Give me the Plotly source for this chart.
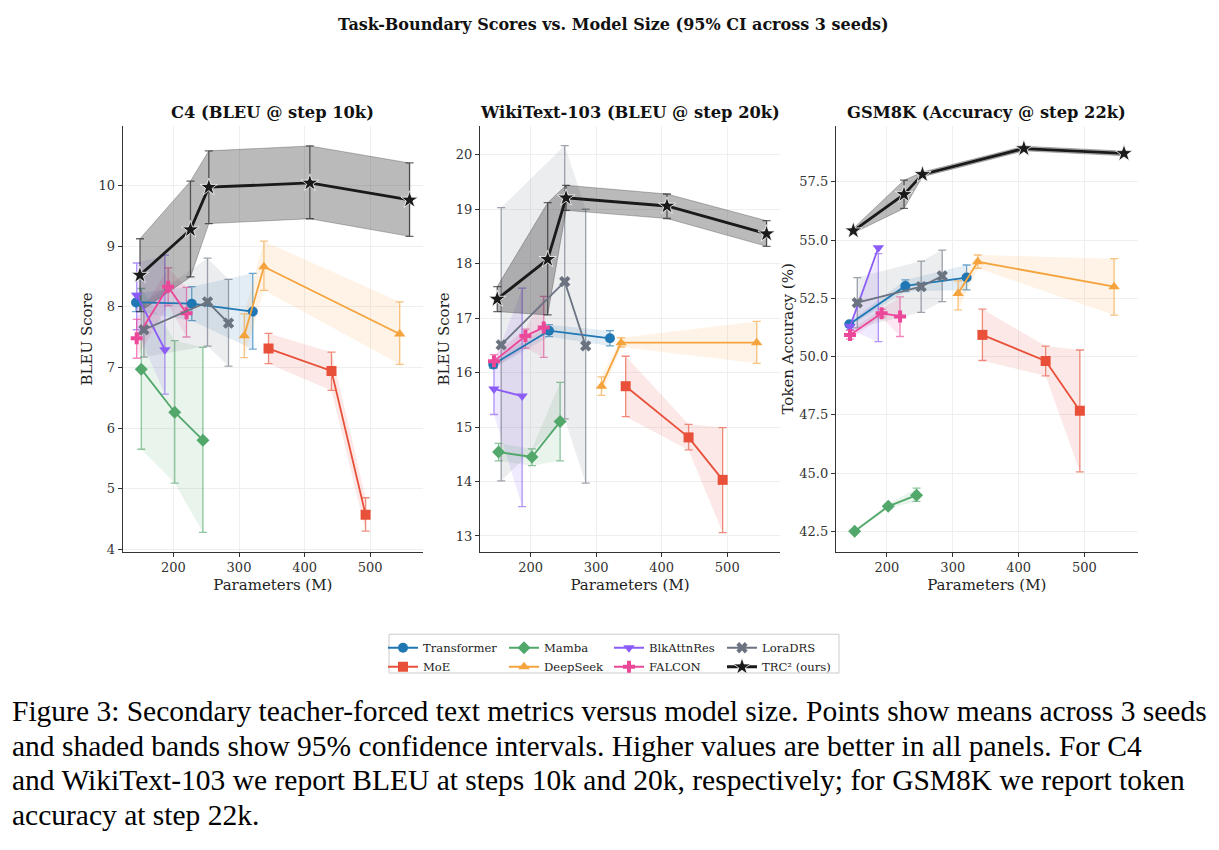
import plotly.graph_objects as go

# ---------------- data ----------------
model_names = ["Transformer", "MoE", "Mamba", "DeepSeek", "BlkAttnRes", "FALCON", "LoraDRS", "TRC² (ours)"]
model_colors = ["#1f77b4", "#e8503a", "#52a86b", "#f5a33c", "#8b5cf6", "#ec4899", "#6b7280", "#1a1a1a"]
model_symbols = ["circle", "square", "diamond", "triangle-up", "triangle-down", "cross", "x", "star"]

x_transformer = [143, 228, 321]
x_moe = [345, 441, 493]
x_mamba = [151, 202, 245]
x_deepseek = [308, 338, 545]
x_blkattnres = [144, 187]
x_falcon = [144, 192, 220]
x_loradrs = [155, 252, 284]
x_trc = [149, 226, 254, 408, 560]

# C4 (BLEU @ step 10k): mean, lower CI, upper CI
c4_transformer = [8.07, 8.05, 7.92]
c4_transformer_lo = [7.92, 7.77, 7.30]
c4_transformer_hi = [8.22, 8.33, 8.55]
c4_moe = [7.31, 6.94, 4.57]
c4_moe_lo = [7.06, 6.62, 4.30]
c4_moe_hi = [7.56, 7.25, 4.85]
c4_mamba = [6.97, 6.26, 5.80]
c4_mamba_lo = [5.65, 5.09, 4.28]
c4_mamba_hi = [8.30, 7.44, 7.33]
c4_deepseek = [7.52, 8.66, 7.55]
c4_deepseek_lo = [7.16, 8.27, 7.05]
c4_deepseek_hi = [7.88, 9.08, 8.08]
c4_blkattnres = [8.19, 7.29]
c4_blkattnres_lo = [7.62, 6.56]
c4_blkattnres_hi = [8.72, 8.85]
c4_falcon = [7.48, 8.33, 7.89]
c4_falcon_lo = [7.15, 8.02, 7.50]
c4_falcon_hi = [7.79, 8.64, 8.32]
c4_loradrs = [7.62, 8.08, 7.73]
c4_loradrs_lo = [7.17, 7.35, 7.02]
c4_loradrs_hi = [8.07, 8.80, 8.45]
c4_trc = [8.52, 9.27, 9.97, 10.04, 9.76]
c4_trc_lo = [7.92, 8.49, 9.37, 9.45, 9.16]
c4_trc_hi = [9.12, 10.07, 10.57, 10.65, 10.37]

# WikiText-103 (BLEU @ step 20k)
wt_transformer = [16.15, 16.77, 16.63]
wt_transformer_lo = [16.08, 16.66, 16.49]
wt_transformer_hi = [16.22, 16.88, 16.77]
wt_moe = [15.75, 14.81, 14.03]
wt_moe_lo = [15.19, 14.58, 13.06]
wt_moe_hi = [16.30, 15.05, 14.99]
wt_mamba = [14.54, 14.45, 15.10]
wt_mamba_lo = [14.38, 14.29, 14.38]
wt_mamba_hi = [14.70, 14.60, 15.82]
wt_deepseek = [15.75, 16.55, 16.55]
wt_deepseek_lo = [15.58, 16.47, 16.17]
wt_deepseek_hi = [15.92, 16.64, 16.94]
wt_blkattnres = [15.70, 15.57]
wt_blkattnres_lo = [15.23, 13.54]
wt_blkattnres_hi = [16.17, 17.55]
wt_falcon = [16.21, 16.67, 16.83]
wt_falcon_lo = [16.09, 16.45, 16.28]
wt_falcon_hi = [16.33, 16.80, 17.40]
wt_loradrs = [16.51, 17.67, 16.49]
wt_loradrs_lo = [14.01, 15.15, 13.97]
wt_loradrs_hi = [19.03, 20.17, 19.00]
wt_trc = [17.35, 18.08, 19.21, 19.06, 18.55]
wt_trc_lo = [17.12, 17.06, 18.98, 18.83, 18.32]
wt_trc_hi = [17.58, 19.12, 19.44, 19.28, 18.79]

# GSM8K (Accuracy @ step 22k)
gsm_transformer = [51.39, 53.03, 53.39]
gsm_transformer_lo = [51.29, 52.79, 52.86]
gsm_transformer_hi = [51.49, 53.29, 53.93]
gsm_moe = [50.93, 49.81, 47.67]
gsm_moe_lo = [49.83, 49.17, 45.05]
gsm_moe_hi = [52.04, 50.45, 50.28]
gsm_mamba = [42.50, 43.57, 44.05]
gsm_mamba_lo = [42.45, 43.48, 43.78]
gsm_mamba_hi = [42.55, 43.66, 44.35]
gsm_deepseek = [52.71, 54.07, 53.00]
gsm_deepseek_lo = [52.00, 53.79, 51.78]
gsm_deepseek_hi = [53.25, 54.36, 54.20]
gsm_blkattnres = [51.29, 54.67]
gsm_blkattnres_lo = [51.15, 50.64]
gsm_blkattnres_hi = [51.43, 54.42]
gsm_falcon = [50.93, 51.86, 51.72]
gsm_falcon_lo = [50.75, 51.69, 50.86]
gsm_falcon_hi = [51.12, 52.03, 52.56]
gsm_loradrs = [52.31, 53.00, 53.46]
gsm_loradrs_lo = [51.23, 51.90, 52.36]
gsm_loradrs_hi = [53.39, 54.10, 54.57]
gsm_trc = [55.40, 56.96, 57.82, 58.93, 58.72]
gsm_trc_lo = [55.30, 56.36, 57.72, 58.83, 58.62]
gsm_trc_hi = [55.50, 57.57, 57.92, 59.03, 58.82]

panel_titles = ["C4 (BLEU @ step 10k)", "WikiText-103 (BLEU @ step 20k)", "GSM8K (Accuracy @ step 22k)"]
y_titles = ["BLEU Score", "BLEU Score", "Token Accuracy (%)"]
x_ticks = [200, 300, 400, 500]
c4_ticks = [4, 5, 6, 7, 8, 9, 10]
wt_ticks = [13, 14, 15, 16, 17, 18, 19, 20]
gsm_ticks = [42.5, 45.0, 47.5, 50.0, 52.5, 55.0, 57.5]

xs = [x_transformer, x_moe, x_mamba, x_deepseek, x_blkattnres, x_falcon, x_loradrs, x_trc]
panels = [
    [(c4_transformer, c4_transformer_lo, c4_transformer_hi), (c4_moe, c4_moe_lo, c4_moe_hi),
     (c4_mamba, c4_mamba_lo, c4_mamba_hi), (c4_deepseek, c4_deepseek_lo, c4_deepseek_hi),
     (c4_blkattnres, c4_blkattnres_lo, c4_blkattnres_hi), (c4_falcon, c4_falcon_lo, c4_falcon_hi),
     (c4_loradrs, c4_loradrs_lo, c4_loradrs_hi), (c4_trc, c4_trc_lo, c4_trc_hi)],
    [(wt_transformer, wt_transformer_lo, wt_transformer_hi), (wt_moe, wt_moe_lo, wt_moe_hi),
     (wt_mamba, wt_mamba_lo, wt_mamba_hi), (wt_deepseek, wt_deepseek_lo, wt_deepseek_hi),
     (wt_blkattnres, wt_blkattnres_lo, wt_blkattnres_hi), (wt_falcon, wt_falcon_lo, wt_falcon_hi),
     (wt_loradrs, wt_loradrs_lo, wt_loradrs_hi), (wt_trc, wt_trc_lo, wt_trc_hi)],
    [(gsm_transformer, gsm_transformer_lo, gsm_transformer_hi), (gsm_moe, gsm_moe_lo, gsm_moe_hi),
     (gsm_mamba, gsm_mamba_lo, gsm_mamba_hi), (gsm_deepseek, gsm_deepseek_lo, gsm_deepseek_hi),
     (gsm_blkattnres, gsm_blkattnres_lo, gsm_blkattnres_hi), (gsm_falcon, gsm_falcon_lo, gsm_falcon_hi),
     (gsm_loradrs, gsm_loradrs_lo, gsm_loradrs_hi), (gsm_trc, gsm_trc_lo, gsm_trc_hi)],
]
y_tick_sets = [c4_ticks, wt_ticks, gsm_ticks]
y_tick_fmt = [".0f", ".0f", ".1f"]

SERIF = "DejaVu Serif"


def rgba(hexc, a):
    h = hexc.lstrip("#")
    return "rgba(%d,%d,%d,%.3f)" % (int(h[0:2], 16), int(h[2:4], 16), int(h[4:6], 16), a)


# legend columns follow matplotlib's column-major ncol=4 layout
legend_of_model = ["legend", "legend", "legend2", "legend2", "legend3", "legend3", "legend4", "legend4"]

fig = go.Figure()
axis_ids = [("x", "y"), ("x2", "y2"), ("x3", "y3")]

for p, series in enumerate(panels):
    xa, ya = axis_ids[p]
    for m, (mean, lo, hi) in enumerate(series):
        x = xs[m]
        col = model_colors[m]
        is_ours = m == 7
        band_alpha = 0.30 if is_ours else 0.13
        # shaded CI band
        fig.add_trace(go.Scatter(
            x=list(x) + list(x[::-1]), y=list(hi) + list(lo[::-1]),
            fill="toself", fillcolor=rgba(col, band_alpha),
            line=dict(color=rgba(col, 0.35 if is_ours else 0.0), width=0.8),
            mode="lines", hoverinfo="skip", showlegend=False, xaxis=xa, yaxis=ya))
        # CI error bars (centered on the interval)
        mid = [(a + b) / 2 for a, b in zip(lo, hi)]
        half = [(b - a) / 2 for a, b in zip(lo, hi)]
        fig.add_trace(go.Scatter(
            x=x, y=mid, mode="markers", marker=dict(size=1, color="rgba(0,0,0,0)"),
            error_y=dict(type="data", array=half, symmetric=True,
                         color=rgba(col, 0.65), thickness=1.3, width=4),
            hoverinfo="skip", showlegend=False, xaxis=xa, yaxis=ya))
    for m, (mean, lo, hi) in enumerate(series):
        x = xs[m]
        col = model_colors[m]
        is_ours = m == 7
        msize = {"star": 13, "cross": 10, "x": 10}.get(model_symbols[m], 10)
        fig.add_trace(go.Scatter(
            x=x, y=mean, mode="lines+markers", name=model_names[m],
            line=dict(color=col, width=2.8 if is_ours else 1.8),
            marker=dict(symbol=model_symbols[m], size=msize, color=col,
                        line=dict(color="white", width=0.8 if is_ours else 0)),
            showlegend=(p == 0), legend=legend_of_model[m],
            xaxis=xa, yaxis=ya))

# ---------------- layout ----------------
W, H = 1219, 850
x_domains = [(122.7 / W, 423.0 / W), (480.0 / W, 780.0 / W), (836.0 / W, 1137.5 / W)]
y_domain = (1 - 555.0 / H, 1 - 126.7 / H)
y_ranges = [(3.96, 10.98), (12.71, 20.53), (41.62, 59.90)]

layout_axes = {}
for p in range(3):
    sfx = "" if p == 0 else str(p + 1)
    layout_axes["xaxis" + sfx] = dict(
        domain=list(x_domains[p]), range=[122.7, 580.5], anchor="y" + sfx,
        tickvals=x_ticks, ticks="outside", ticklen=4, tickwidth=1.1, tickcolor="#333",
        showline=True, linecolor="#333", linewidth=1.3, mirror=False,
        showgrid=True, gridcolor="#efefef", gridwidth=1, zeroline=False,
        tickfont=dict(family=SERIF, size=13, color="#333"),
        title=dict(text="Parameters (M)", font=dict(family=SERIF, size=15, color="#222"), standoff=5))
    layout_axes["yaxis" + sfx] = dict(
        domain=list(y_domain), range=list(y_ranges[p]), anchor="x" + sfx,
        tickvals=y_tick_sets[p], tickformat=y_tick_fmt[p], ticks="outside", ticklen=4,
        tickwidth=1.1, tickcolor="#333",
        showline=True, linecolor="#333", linewidth=1.3, mirror=False,
        showgrid=True, gridcolor="#efefef", gridwidth=1, zeroline=False,
        tickfont=dict(family=SERIF, size=13, color="#333"),
        title=dict(text=y_titles[p], font=dict(family=SERIF, size=15, color="#222"), standoff=2))

annotations = [dict(text="<b>Task-Boundary Scores vs. Model Size (95% CI across 3 seeds)</b>",
                    x=613.0 / W, y=1 - 25.0 / H, xref="paper", yref="paper", showarrow=False,
                    font=dict(family=SERIF, size=16, color="#111"), xanchor="center", yanchor="middle")]
for p in range(3):
    annotations.append(dict(text="<b>%s</b>" % panel_titles[p],
                            x=(x_domains[p][0] + x_domains[p][1]) / 2, y=1 - 113.0 / H,
                            xref="paper", yref="paper", showarrow=False,
                            font=dict(family=SERIF, size=16.3, color="#111"),
                            xanchor="center", yanchor="middle"))

caption_lines = [
    "Figure 3: Secondary teacher-forced text metrics versus model size. Points show means across 3 seeds",
    "and shaded bands show 95% confidence intervals. Higher values are better in all panels. For C4",
    "and WikiText-103 we report BLEU at steps 10k and 20k, respectively; for GSM8K we report token",
    "accuracy at step 22k.",
]
caption_y = [715, 750, 785, 820]
for line, cy in zip(caption_lines, caption_y):
    annotations.append(dict(text=line, x=10.0 / W, y=1 - cy / H, xref="paper", yref="paper",
                            showarrow=False, xanchor="left", yanchor="middle",
                            font=dict(family="Liberation Serif", size=29.5, color="#000")))

leg_common = dict(orientation="v", bgcolor="rgba(0,0,0,0)", borderwidth=0,
                  font=dict(size=11.6, color="#222", family=SERIF),
                  yanchor="top", xanchor="left", tracegroupgap=0, itemwidth=30)
leg_x = [383.0, 504.0, 609.0, 722.0]
legends = {}
for i, name in enumerate(["legend", "legend2", "legend3", "legend4"]):
    legends[name] = dict(leg_common, x=leg_x[i] / W, y=1 - 637.0 / H)

fig.update_layout(
    width=W, height=H, margin=dict(l=0, r=0, t=0, b=0),
    paper_bgcolor="white", plot_bgcolor="white",
    font=dict(family=SERIF, color="#222"),
    annotations=annotations,
    shapes=[dict(type="rect", xref="paper", yref="paper",
                 x0=389.0 / W, x1=839.0 / W, y0=1 - 677.0 / H, y1=1 - 638.0 / H,
                 line=dict(color="#cccccc", width=1), fillcolor="white", layer="below")],
    **legends, **layout_axes)

fig.write_html("out.html")
